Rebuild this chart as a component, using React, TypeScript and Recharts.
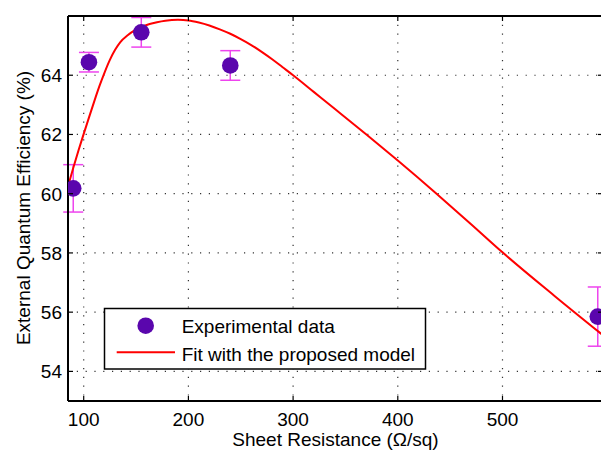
import React from 'react';
import {
  ComposedChart,
  XAxis,
  YAxis,
  CartesianGrid,
  Scatter,
  Line,
  ErrorBar,
  Customized,
} from 'recharts';

// Experimental data
const pointX = [90, 105, 155, 240, 591];
const pointY = [60.18, 64.44, 65.45, 64.33, 55.85];
const pointErr = [0.8, 0.33, 0.5, 0.5, 1.0];

// Fit with the proposed model
const fitX = [85, 90, 95, 100, 105, 110, 115, 120, 125, 130, 135, 142, 149, 156, 163, 170, 178, 190, 200, 210, 220, 230, 240, 250, 260, 270, 280, 290, 300, 320, 340, 370, 400, 437, 470, 500, 550, 596];
const fitY = [60.25, 60.87, 61.46, 62.02, 62.57, 63.11, 63.63, 64.1, 64.52, 64.86, 65.12, 65.35, 65.52, 65.64, 65.73, 65.79, 65.84, 65.87, 65.85, 65.78, 65.68, 65.55, 65.4, 65.22, 65.02, 64.79, 64.54, 64.27, 64.0, 63.43, 62.86, 62.0, 61.12, 60.0, 58.97, 58.02, 56.54, 55.22];

const xTicks = [100, 200, 300, 400, 500];
const yTicks = [54, 56, 58, 60, 62, 64];
const xDomain = [85, 596];
const yDomain = [53, 66];

const xLabel = 'Sheet Resistance (\u03A9/sq)';
const yLabel = 'External Quantum Efficiency (%)';
const legendLabels = ['Experimental data', 'Fit with the proposed model'];

const points = pointX.map((x, i) => ({ x, y: pointY[i], err: pointErr[i] }));
const fit = fitX.map((x, i) => ({ x, y: fitY[i] }));

const FONT = '"Liberation Sans", Arial, Helvetica, sans-serif';
const MARKER = '#5a06ad';
const ERR = '#ee44ee';
const FIT = '#ff0000';

const BottomTick = (props: any) => {
  const { x, y, payload } = props;
  return (
    <g>
      <line x1={x} x2={x} y1={y} y2={y - 5} stroke="#000" strokeWidth={1.2} />
      <text x={x} y={y + 25} textAnchor="middle" fontSize={19} fill="#000" fontFamily={FONT}>
        {payload.value}
      </text>
    </g>
  );
};

const TopTick = (props: any) => {
  const { x, y } = props;
  return <line x1={x} x2={x} y1={y} y2={y + 5} stroke="#000" strokeWidth={1.2} />;
};

const LeftTick = (props: any) => {
  const { x, y, payload } = props;
  return (
    <g>
      <line x1={x} x2={x + 5} y1={y} y2={y} stroke="#000" strokeWidth={1.2} />
      <text x={x - 6} y={y} dy="0.36em" textAnchor="end" fontSize={19} fill="#000" fontFamily={FONT}>
        {payload.value}
      </text>
    </g>
  );
};

const RightTick = (props: any) => {
  const { x, y } = props;
  return <line x1={x} x2={x - 5} y1={y} y2={y} stroke="#000" strokeWidth={1.2} />;
};

const Overlay = () => (
  <g>
    <text
      transform="translate(29.5,208) rotate(-90)"
      textAnchor="middle"
      fontSize={19}
      fill="#000"
      fontFamily={FONT}
    >
      {yLabel}
    </text>
    <text x={335.5} y={446} textAnchor="middle" fontSize={19} fill="#000" fontFamily={FONT}>
      {xLabel}
    </text>
    <rect x={104.5} y={308.5} width={321} height={60.5} fill="#fff" stroke="#000" strokeWidth={1.5} />
    <circle cx={145.7} cy={325.7} r={8.3} fill={MARKER} />
    <line x1={116.7} x2={175} y1={352.3} y2={352.3} stroke={FIT} strokeWidth={2} />
    <text x={181.7} y={333.3} fontSize={19} fill="#000" fontFamily={FONT}>
      {legendLabels[0]}
    </text>
    <text x={181.7} y={361} fontSize={19} fill="#000" fontFamily={FONT}>
      {legendLabels[1]}
    </text>
  </g>
);

const MarkerShape = (p: any) => <circle cx={p.cx} cy={p.cy} r={8.3} fill={MARKER} />;

export default function App() {
  return (
    <div
      style={{
        position: 'fixed',
        left: 0,
        top: 0,
        width: 601,
        height: 451,
        overflow: 'hidden',
        background: '#fff',
        fontFamily: FONT,
      }}
    >
      <ComposedChart width={604} height={451} margin={{ top: 15, right: 0, bottom: 0, left: 0 }}>
        <CartesianGrid
          xAxisId="bottom"
          yAxisId="left"
          stroke="#333"
          strokeWidth={1.2}
          strokeDasharray="1.2 7.6"
        />
        <XAxis
          xAxisId="bottom"
          dataKey="x"
          type="number"
          domain={xDomain}
          ticks={xTicks}
          allowDataOverflow
          height={50}
          tickLine={false}
          tickSize={0}
          tickMargin={0}
          tick={<BottomTick />}
          axisLine={{ stroke: '#000', strokeWidth: 2 }}
        />
        <XAxis
          xAxisId="top"
          orientation="top"
          dataKey="x"
          type="number"
          domain={xDomain}
          ticks={xTicks}
          allowDataOverflow
          height={1}
          tickLine={false}
          tickSize={0}
          tickMargin={0}
          tick={<TopTick />}
          axisLine={{ stroke: '#000', strokeWidth: 2 }}
        />
        <YAxis
          yAxisId="left"
          type="number"
          domain={yDomain}
          ticks={yTicks}
          allowDataOverflow
          width={68}
          tickLine={false}
          tickSize={0}
          tickMargin={0}
          tick={<LeftTick />}
          axisLine={{ stroke: '#000', strokeWidth: 2 }}
        />
        <YAxis
          yAxisId="right"
          orientation="right"
          type="number"
          domain={yDomain}
          ticks={yTicks}
          allowDataOverflow
          width={1}
          tickLine={false}
          tickSize={0}
          tickMargin={0}
          tick={<RightTick />}
          axisLine={{ stroke: '#000', strokeWidth: 2 }}
        />
        <Scatter
          data={points}
          dataKey="y"
          xAxisId="bottom"
          yAxisId="left"
          fill={MARKER}
          shape={MarkerShape}
          isAnimationActive={false}
        >
          <ErrorBar dataKey="err" direction="y" width={10} stroke={ERR} strokeWidth={1.5} isAnimationActive={false} />
        </Scatter>
        <Line
          data={fit}
          dataKey="y"
          xAxisId="bottom"
          yAxisId="left"
          type="monotone"
          stroke={FIT}
          strokeWidth={2}
          dot={false}
          activeDot={false}
          isAnimationActive={false}
        />
        <Customized component={Overlay} />
      </ComposedChart>
    </div>
  );
}
